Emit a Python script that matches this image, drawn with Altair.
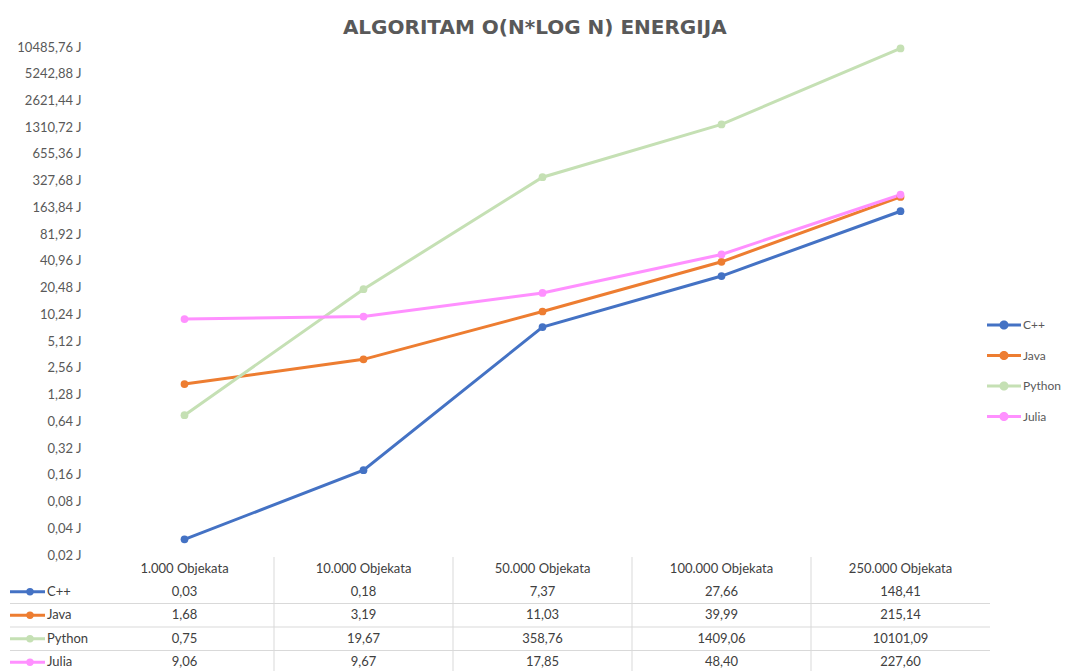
import altair as alt
import pandas as pd

categories = ["1.000 Objekata", "10.000 Objekata", "50.000 Objekata", "100.000 Objekata", "250.000 Objekata"]
series = ["C++", "Java", "Python", "Julia"]
cpp = [0.03, 0.18, 7.37, 27.66, 148.41]
java = [1.68, 3.19, 11.03, 39.99, 215.14]
python = [0.75, 19.67, 358.76, 1409.06, 10101.09]
julia = [9.06, 9.67, 17.85, 48.40, 227.60]
colors = ["#4472C4", "#ED7D31", "#C5E0B4", "#FF90FF"]
y_ticks = [0.02, 0.04, 0.08, 0.16, 0.32, 0.64, 1.28, 2.56, 5.12, 10.24, 20.48,
           40.96, 81.92, 163.84, 327.68, 655.36, 1310.72, 2621.44, 5242.88, 10485.76]

rows = []
for name, vals in zip(series, [cpp, java, python, julia]):
    for c, v in zip(categories, vals):
        rows.append({"series": name, "cat": c, "val": v,
                     "label": f"{v:.2f}".replace(".", ",")})
df = pd.DataFrame(rows)

W = 895
FONT = "Lato"
FS = 13
AXIS_GRAY = "#595959"
TEXT_GRAY = "#404040"
LINE_GRAY = "#D9D9D9"

legend_path = ("M-1,-0.09L-0.25,-0.09L-0.25,0.09L-1,0.09Z "
               "M0.25,-0.09L1,-0.09L1,0.09L0.25,0.09Z "
               "M0.27,0A0.27,0.27,0,1,1,-0.27,0A0.27,0.27,0,1,1,0.27,0Z")

color_scale = alt.Scale(domain=series, range=colors)

top_legend = alt.Legend(
    title=None, orient="none", legendX=W - 3, legendY=261,
    symbolType=legend_path, symbolSize=1156, rowPadding=7.5,
    symbolStrokeWidth=0, symbolOpacity=1,
    labelFont=FONT, labelFontSize=12, labelColor=AXIS_GRAY, labelOffset=2)

x_enc = alt.X("cat:N", sort=categories,
              scale=alt.Scale(type="point", padding=0.5), axis=None)
y_enc = alt.Y("val:Q",
              scale=alt.Scale(type="log", base=2, domain=[0.02, 10485.76], nice=False),
              axis=alt.Axis(values=y_ticks,
                            labelExpr="replace(format(datum.value, '.2f'), '.', ',') + ' J'",
                            grid=False, domain=False, ticks=False, labelPadding=14,
                            labelFont=FONT, labelFontSize=FS, labelColor=AXIS_GRAY,
                            title=None))

lines = alt.Chart(df).mark_line(strokeWidth=3).encode(
    x=x_enc, y=y_enc,
    color=alt.Color("series:N", sort=series, scale=color_scale, legend=top_legend),
)
points = alt.Chart(df).mark_point(filled=True, size=60, opacity=1).encode(
    x=x_enc, y=y_enc,
    fill=alt.Fill("series:N", sort=series, scale=color_scale, legend=top_legend),
)
top = alt.layer(lines, points).properties(width=W, height=508)

band_x = alt.Scale(paddingInner=0, paddingOuter=0)
band_y = alt.Scale(paddingInner=0, paddingOuter=0)
table_x_axis = alt.Axis(orient="top", title=None, domain=False, ticks=False,
                        grid=False, labelAngle=0, labelPadding=5, labelFont=FONT,
                        labelFontSize=FS, labelColor=TEXT_GRAY)

TH = 94

cells = alt.Chart(df).mark_text(font=FONT, fontSize=FS, color=TEXT_GRAY).encode(
    x=alt.X("cat:N", sort=categories, scale=band_x, axis=table_x_axis),
    y=alt.Y("series:N", sort=series, scale=band_y, axis=None),
    text="label:N",
)

vdf = pd.DataFrame({"cat": categories[1:]})
vrules = alt.Chart(vdf).mark_rule(color=LINE_GRAY, strokeWidth=1).encode(
    x=alt.X("cat:N", sort=categories, bandPosition=0, scale=band_x, axis=table_x_axis),
    y=alt.value(-23), y2=alt.value(TH),
)

hdf = pd.DataFrame({"series": series[:-1]})
hrules = alt.Chart(hdf).mark_rule(color=LINE_GRAY, strokeWidth=1).encode(
    y=alt.Y("series:N", sort=series, bandPosition=1, scale=band_y, axis=None),
    x=alt.value(-85), x2=alt.value(W),
)

sdf = pd.DataFrame({"series": series})
sym_line = alt.Chart(sdf).mark_rule(strokeWidth=3).encode(
    y=alt.Y("series:N", sort=series, scale=band_y, axis=None),
    x=alt.value(-85), x2=alt.value(-50),
    color=alt.Color("series:N", sort=series, scale=color_scale, legend=None),
)
sym_pt = alt.Chart(sdf).mark_point(filled=True, size=55, opacity=1).encode(
    y=alt.Y("series:N", sort=series, scale=band_y, axis=None),
    x=alt.value(-65),
    color=alt.Color("series:N", sort=series, scale=color_scale, legend=None),
)
sym_txt = alt.Chart(sdf).mark_text(align="left", font=FONT, fontSize=FS,
                                   color=TEXT_GRAY).encode(
    y=alt.Y("series:N", sort=series, scale=band_y, axis=None),
    x=alt.value(-48),
    text="series:N",
)

table = alt.layer(cells, vrules, hrules, sym_line, sym_pt, sym_txt).properties(
    width=W, height=TH)

chart = alt.vconcat(top, table, spacing=25, bounds="flush").properties(
    title=alt.TitleParams(
        "ALGORITAM O(N*LOG N) ENERGIJA", font="DejaVu Sans", fontSize=20,
        fontWeight="bold", color=AXIS_GRAY, anchor="middle", offset=3),
    padding={"top": 10, "left": 0, "right": 0, "bottom": 0},
).resolve_legend(fill="independent", color="independent").configure_view(stroke=None)

chart.save("out.html", embed_options={"renderer": "svg", "actions": False})
